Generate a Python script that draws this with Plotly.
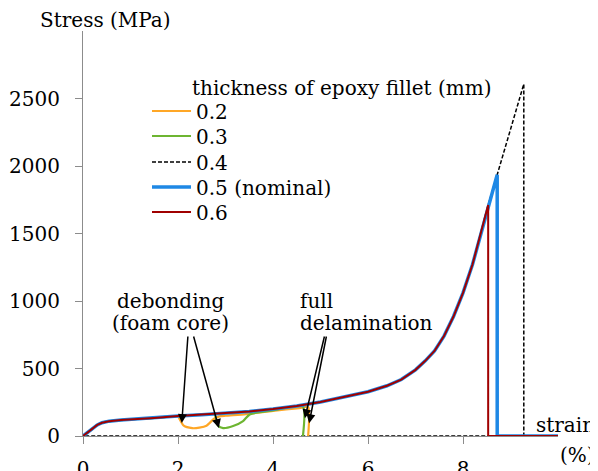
import plotly.graph_objects as go

# Common loading curve (strain %, stress MPa)
main_strain = [0, 0.15, 0.3, 0.4, 0.55, 0.8, 1.0, 1.5, 2.0, 2.5, 3.0, 3.5, 4.0, 4.5,
               5.0, 5.5, 6.0, 6.4, 6.7, 7.0, 7.2, 7.4, 7.6, 7.8, 8.0, 8.2, 8.4, 8.53, 8.72]
main_stress = [0, 40, 82, 98, 110, 118, 124, 134, 148, 158, 168, 182, 200, 222,
               252, 288, 328, 372, 418, 490, 555, 630, 740, 885, 1060, 1270, 1530, 1711, 1935]

# 0.2 mm: debonding dip then full delamination
s02_strain = [0, 0.15, 0.3, 0.4, 0.55, 0.8, 1.0, 1.5, 2.0, 2.02, 2.12, 2.3, 2.45, 2.6,
              2.76, 2.87, 3.0, 3.43, 4.0, 4.56, 4.74, 4.74]
s02_stress = [0, 40, 82, 98, 110, 118, 124, 134, 146, 133, 76, 58, 62, 76,
              128, 145, 150, 162, 186, 207, 215, 0]

# 0.3 mm
s03_strain = [0, 0.15, 0.3, 0.4, 0.55, 0.8, 1.0, 1.5, 2.0, 2.5, 2.77, 2.84, 2.95, 3.16,
              3.37, 3.51, 4.0, 4.63, 4.63]
s03_stress = [0, 40, 82, 98, 110, 118, 124, 134, 148, 158, 160, 78, 58, 74,
              111, 160, 190, 217, 0]

# 0.4 mm: extends beyond the nominal peak
s04_strain = main_strain + [9.28, 9.28, 0]
s04_stress = main_stress + [2607, 0, 0]

# 0.5 mm (nominal)
s05_strain = main_strain + [8.72, 10]
s05_stress = main_stress + [0, 0]

# 0.6 mm
n06 = len([v for v in main_strain if v <= 8.53])
s06_strain = main_strain[:n06] + [8.53, 10]
s06_stress = main_stress[:n06] + [0, 0]

x_ticks = [0, 2, 4, 6, 8]
y_ticks = [0, 500, 1000, 1500, 2000, 2500]

FONT = "DejaVu Serif, Liberation Serif, serif"
fig = go.Figure()

# screen-pixel -> paper coordinates (plot area spans x 83..558, y 31..436 on screen)
def px(xp, yp):
    return (xp - 83) / 475.0, (436 - yp) / 405.0

fig.add_trace(go.Scatter(x=s04_strain, y=s04_stress, mode="lines", name="0.4", legend="legend3",
                         line=dict(color="black", width=1.5, dash="4px,2px")))
fig.add_trace(go.Scatter(x=s02_strain, y=s02_stress, mode="lines", name="0.2", legend="legend",
                         line=dict(color="#FFA726", width=2.2, shape="spline", smoothing=0.6)))
fig.add_trace(go.Scatter(x=s03_strain, y=s03_stress, mode="lines", name="0.3", legend="legend2",
                         line=dict(color="#6DB531", width=2.2, shape="spline", smoothing=0.6)))
fig.add_trace(go.Scatter(x=s05_strain, y=s05_stress, mode="lines", name="0.5 (nominal)", legend="legend4",
                         line=dict(color="#1E88E5", width=3.5)))
fig.add_trace(go.Scatter(x=s06_strain, y=s06_stress, mode="lines", name="0.6", legend="legend5",
                         line=dict(color="#A00000", width=2)))

legend_rows = [111, 136, 162, 187, 212]
legends = {}
for i, yc in enumerate(legend_rows):
    lx, ly = px(147, yc)
    key = "legend" if i == 0 else f"legend{i+1}"
    legends[key] = dict(x=lx, y=ly, xanchor="left", yanchor="middle", itemwidth=39,
                        bgcolor="rgba(0,0,0,0)", font=dict(size=20, family=FONT),
                        borderwidth=0)

axis_col = "#8C8C8C"
fig.update_layout(
    width=590, height=463,
    margin=dict(l=75, r=40, t=23, b=35, autoexpand=False),
    paper_bgcolor="white", plot_bgcolor="white",
    font=dict(family=FONT, size=20, color="black"),
    showlegend=True,
    xaxis=dict(range=[0, 10], tickvals=x_ticks, showgrid=False, zeroline=False,
               showline=True, linecolor=axis_col, linewidth=1, automargin=False,
               ticks="outside", ticklen=7, tickcolor=axis_col,
               ticklabelstandoff=8, tickfont=dict(family=FONT, size=20)),
    yaxis=dict(range=[0, 3000], tickvals=y_ticks, showgrid=False, zeroline=False,
               showline=True, linecolor=axis_col, linewidth=1, automargin=False,
               ticks="outside", ticklen=7, tickcolor=axis_col,
               ticklabelstandoff=11, tickfont=dict(family=FONT, size=20)),
    **legends,
)

ann = []
def txt(x, y, t, xanchor="center", yanchor="middle"):
    ann.append(dict(x=x, y=y, xref="paper", yref="paper", text=t, showarrow=False,
                    xanchor=xanchor, yanchor=yanchor, font=dict(family=FONT, size=20)))

x0, y0 = px(105, 20); txt(x0, y0, "Stress (MPa)")
x0, y0 = px(342, 88); txt(x0, y0, "thickness of epoxy fillet (mm)")
x0, y0 = px(170, 301); txt(x0, y0, "debonding")
x0, y0 = px(170, 323); txt(x0, y0, "(foam core)")
x0, y0 = px(298, 301); txt(x0, y0, "full", xanchor="left")
x0, y0 = px(298, 323); txt(x0, y0, "delamination", xanchor="left")
x0, y0 = px(597, 425); txt(x0, y0, "strain", xanchor="right")
x0, y0 = px(597, 455); txt(x0, y0, "(%)", xanchor="right")

# arrows: (tail strain, tail stress, head strain, head stress)
arrows = [(2.21, 748, 2.08, 96), (2.32, 748, 2.86, 59),
          (5.09, 748, 4.67, 131), (5.13, 748, 4.76, 94)]
for tx, ty, hx, hy in arrows:
    ann.append(dict(x=hx, y=hy, ax=tx, ay=ty, xref="x", yref="y", axref="x", ayref="y",
                    text="", showarrow=True, arrowhead=2, arrowsize=1.2, arrowwidth=1.5,
                    arrowcolor="black"))

fig.update_layout(annotations=ann)
fig.write_html("out.html")
